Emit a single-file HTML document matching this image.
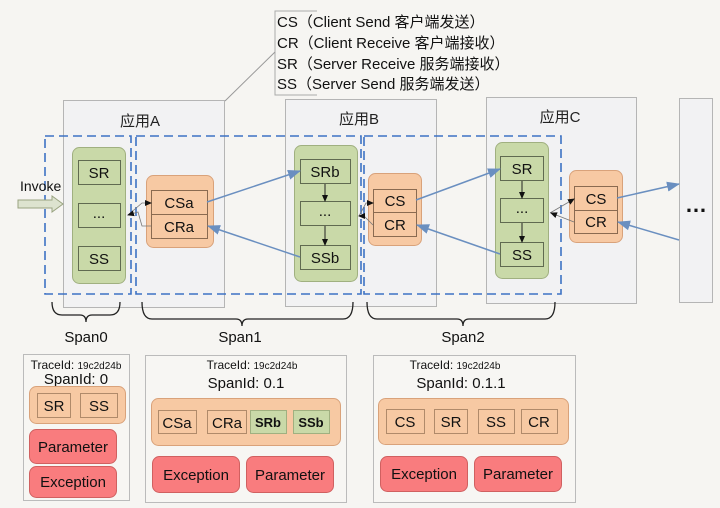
<!DOCTYPE html>
<html><head><meta charset="utf-8"><style>
html,body{margin:0;padding:0;background:#f6f5f2;}
svg{display:block;font-family:"Liberation Sans","Noto Sans CJK SC",sans-serif;}
</style></head><body>
<svg width="720" height="508" viewBox="0 0 720 508" xmlns="http://www.w3.org/2000/svg">
<defs>
<marker id="bl" markerWidth="13" markerHeight="10" refX="12" refY="5" orient="auto" markerUnits="userSpaceOnUse"><path d="M0,0 L13,5 L0,10 z" fill="#6a8fc0"/></marker>
<marker id="bk" markerWidth="7" markerHeight="6" refX="6" refY="3" orient="auto" markerUnits="userSpaceOnUse"><path d="M0,0 L7,3 L0,6 z" fill="#111"/></marker>
</defs>
<rect width="720" height="508" fill="#f6f5f2"/>
<path d="M317,11 H275 V95 H317" fill="none" stroke="#aaa" stroke-width="1"/>
<line x1="275" y1="52" x2="225" y2="101" stroke="#999" stroke-width="1"/>
<g font-size="15" fill="#111">
<text x="277" y="27">CS（Client Send 客户端发送）</text>
<text x="277" y="48">CR（Client Receive 客户端接收）</text>
<text x="277" y="69">SR（Server Receive 服务端接收）</text>
<text x="277" y="89">SS（Server Send 服务端发送）</text>
</g>
<g fill="#f2f2f3" stroke="#b5b5b5">
<rect x="63.5" y="100.5" width="161" height="207"/>
<rect x="285.5" y="99.5" width="151" height="207"/>
<rect x="486.5" y="97.5" width="150" height="206"/>
<rect x="679.5" y="98.5" width="33" height="204"/>
</g>
<g font-size="15" fill="#222" text-anchor="middle">
<text x="140" y="126">应用A</text>
<text x="359" y="124">应用B</text>
<text x="560" y="122">应用C</text>
</g>
<text x="696" y="212" font-size="22" font-weight="bold" fill="#111" text-anchor="middle">…</text>
<g fill="none" stroke="#3d72c4" stroke-width="1.6" stroke-dasharray="9,5">
<rect x="45" y="136" width="86" height="158"/>
<rect x="136" y="136" width="225" height="158"/>
<rect x="364" y="136" width="197" height="158"/>
</g>
<g fill="#c9d9a8" stroke="#a0b080">
<rect x="72.5" y="147.5" width="53" height="136" rx="7"/>
<rect x="294.5" y="145.5" width="63" height="136" rx="7"/>
<rect x="495.5" y="142.5" width="53" height="136" rx="7"/>
</g>
<g fill="#c9d9a8" stroke="#606a50">
<rect x="78.5" y="160.5" width="42" height="24"/><rect x="78.5" y="203.5" width="42" height="24"/><rect x="78.5" y="246.5" width="42" height="24"/>
<rect x="300.5" y="159.5" width="50" height="24"/><rect x="300.5" y="201.5" width="50" height="24"/><rect x="300.5" y="245.5" width="50" height="24"/>
<rect x="500.5" y="156.5" width="43" height="24"/><rect x="500.5" y="198.5" width="43" height="24"/><rect x="500.5" y="242.5" width="43" height="24"/>
</g>
<g font-size="15" fill="#111" text-anchor="middle">
<text x="99" y="178">SR</text><text x="99" y="218">...</text><text x="99" y="264">SS</text>
<text x="325" y="177">SRb</text><text x="325" y="216">...</text><text x="325" y="263">SSb</text>
<text x="522" y="174">SR</text><text x="522" y="213">...</text><text x="522" y="260">SS</text>
</g>
<g fill="#f7c9a3" stroke="#d9a27a">
<rect x="146.5" y="175.5" width="67" height="72" rx="7"/>
<rect x="368.5" y="173.5" width="53" height="72" rx="7"/>
<rect x="569.5" y="170.5" width="53" height="72" rx="7"/>
</g>
<g fill="#f7c9a3" stroke="#8a6a50">
<rect x="151.5" y="190.5" width="56" height="24"/><rect x="151.5" y="214.5" width="56" height="24"/>
<rect x="373.5" y="189.5" width="43" height="23"/><rect x="373.5" y="212.5" width="43" height="24"/>
<rect x="574.5" y="186.5" width="43" height="24"/><rect x="574.5" y="210.5" width="43" height="23"/>
</g>
<g font-size="15" fill="#111" text-anchor="middle">
<text x="179" y="208">CSa</text><text x="179" y="232">CRa</text>
<text x="395" y="206">CS</text><text x="395" y="230">CR</text>
<text x="596" y="204">CS</text><text x="596" y="227">CR</text>
</g>
<g stroke="#222" stroke-width="1" marker-end="url(#bk)">
<line x1="325" y1="184" x2="325" y2="201"/><line x1="325" y1="226" x2="325" y2="245"/>
<line x1="522" y1="181" x2="522" y2="198"/><line x1="522" y1="223" x2="522" y2="242"/>
</g>
<g stroke="#777" stroke-width="0.8" fill="none">
<path d="M128,215 L142,203 L151,203" marker-end="url(#bk)"/>
<path d="M151,226 L142,226 L138,212 L128,215" marker-end="url(#bk)"/>
<path d="M359,216 L366,203 L373,203" marker-end="url(#bk)"/>
<path d="M373,225 L364,216 L359,216" marker-end="url(#bk)"/>
<path d="M550,213 L574,199" marker-end="url(#bk)"/>
<path d="M574,222 L551,213" marker-end="url(#bk)"/>
</g>
<g stroke="#6a8fc0" stroke-width="1.5" marker-end="url(#bl)">
<line x1="207" y1="202" x2="300" y2="171"/>
<line x1="300" y1="257" x2="208" y2="226"/>
<line x1="416" y1="200" x2="500" y2="169"/>
<line x1="500" y1="254" x2="417" y2="225"/>
<line x1="617" y1="198" x2="679" y2="184"/>
<line x1="679" y1="240" x2="618" y2="222"/>
</g>
<text x="20" y="191" font-size="14" fill="#111">Invoke</text>
<path d="M18,200 H52 V196 L63,204 L52,212 V208 H18 z" fill="#dde3cf" stroke="#99a380"/>
<g fill="none" stroke="#222" stroke-width="1.3">
<path d="M52,302 Q52,315 62,315 H80 Q86,315 86,322 Q86,315 92,315 H110 Q120,315 120,302"/>
<path d="M142,302 Q142,319 152,319 H236 Q242,319 242,326 Q242,319 248,319 H343 Q353,319 353,302"/>
<path d="M367,302 Q367,319 377,319 H457 Q463,319 463,326 Q463,319 469,319 H545 Q555,319 555,302"/>
</g>
<g font-size="15" fill="#111" text-anchor="middle">
<text x="86" y="342">Span0</text><text x="240" y="342">Span1</text><text x="463" y="342">Span2</text>
</g>
<g fill="#f7f6f3" stroke="#bbb">
<rect x="23.5" y="354.5" width="106" height="146"/>
<rect x="145.5" y="355.5" width="201" height="147"/>
<rect x="373.5" y="355.5" width="202" height="147"/>
</g>
<g fill="#111" text-anchor="middle">
<text x="76" y="369" font-size="12">TraceId: <tspan font-size="10">19c2d24b</tspan></text>
<text x="76" y="384" font-size="15">SpanId: 0</text>
<text x="252" y="369" font-size="12">TraceId: <tspan font-size="10">19c2d24b</tspan></text>
<text x="246" y="388" font-size="15">SpanId: 0.1</text>
<text x="455" y="369" font-size="12">TraceId: <tspan font-size="10">19c2d24b</tspan></text>
<text x="461" y="388" font-size="15">SpanId: 0.1.1</text>
</g>
<g fill="#f7c9a3" stroke="#d9a27a">
<rect x="29.5" y="386.5" width="96" height="37" rx="7"/>
<rect x="151.5" y="398.5" width="189" height="47" rx="7"/>
<rect x="378.5" y="398.5" width="190" height="46" rx="7"/>
</g>
<g fill="#f7c9a3" stroke="#b08a6a">
<rect x="37.5" y="393.5" width="33" height="24"/><rect x="80.5" y="393.5" width="37" height="24"/>
<rect x="158.5" y="410.5" width="38" height="23"/><rect x="207.5" y="410.5" width="39" height="23"/>
<rect x="386.5" y="409.5" width="38" height="24"/><rect x="434.5" y="409.5" width="33" height="24"/><rect x="478.5" y="409.5" width="36" height="24"/><rect x="521.5" y="409.5" width="36" height="24"/>
</g>
<g fill="#c9d9a8" stroke="#a0b080">
<rect x="250.5" y="410.5" width="36" height="23"/><rect x="293.5" y="410.5" width="36" height="23"/>
</g>
<g font-size="15" fill="#111" text-anchor="middle">
<text x="54" y="411">SR</text><text x="99" y="411">SS</text>
<text x="177" y="428">CSa</text><text x="227" y="428">CRa</text>
<text x="268" y="427" font-size="13" font-weight="bold">SRb</text><text x="311" y="427" font-size="13" font-weight="bold">SSb</text>
<text x="405" y="427">CS</text><text x="451" y="427">SR</text><text x="496" y="427">SS</text><text x="539" y="427">CR</text>
</g>
<g fill="#f97c7e" stroke="#d06060">
<rect x="29.5" y="429.5" width="87" height="34" rx="7"/><rect x="29.5" y="466.5" width="87" height="31" rx="7"/>
<rect x="152.5" y="456.5" width="87" height="36" rx="7"/><rect x="246.5" y="456.5" width="87" height="36" rx="7"/>
<rect x="380.5" y="456.5" width="87" height="35" rx="7"/><rect x="474.5" y="456.5" width="87" height="35" rx="7"/>
</g>
<g font-size="15" fill="#111" text-anchor="middle">
<text x="73" y="452">Parameter</text><text x="73" y="487">Exception</text>
<text x="196" y="480">Exception</text><text x="290" y="480">Parameter</text>
<text x="424" y="479">Exception</text><text x="518" y="479">Parameter</text>
</g>
</svg>
</body></html>
